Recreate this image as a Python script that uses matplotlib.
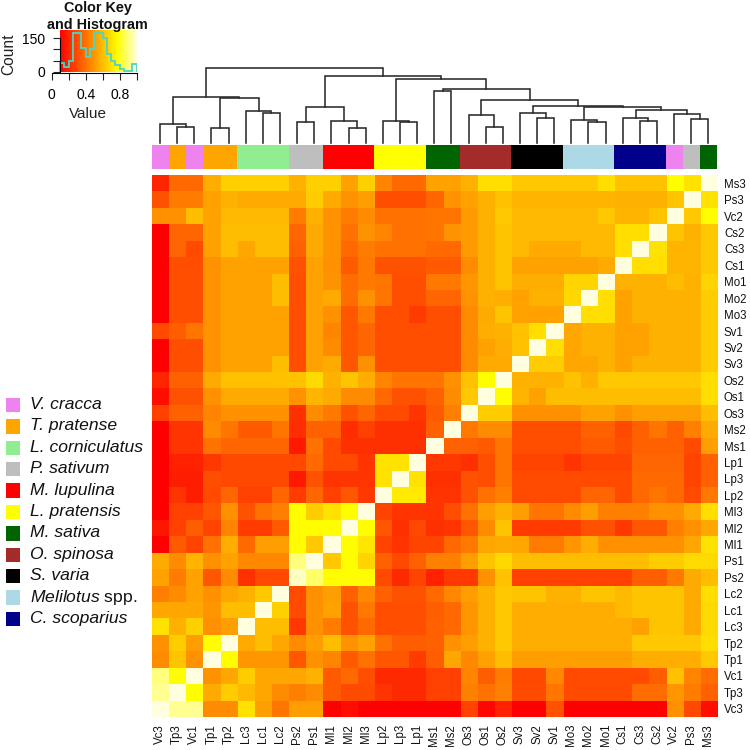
import numpy as np
import matplotlib
matplotlib.use('Agg')
import matplotlib.pyplot as plt
from matplotlib.colors import LinearSegmentedColormap

plt.rcParams['font.family'] = ['Liberation Sans', 'DejaVu Sans']
plt.rcParams['mathtext.fontset'] = 'custom'
plt.rcParams['mathtext.it'] = 'Liberation Sans:italic'
plt.rcParams['mathtext.rm'] = 'Liberation Sans'

col_labels = ['Vc3', 'Tp3', 'Vc1', 'Tp1', 'Tp2', 'Lc3', 'Lc1', 'Lc2', 'Ps2', 'Ps1', 'Ml1',
              'Ml2', 'Ml3', 'Lp2', 'Lp3', 'Lp1', 'Ms1', 'Ms2', 'Os3', 'Os1', 'Os2', 'Sv3',
              'Sv2', 'Sv1', 'Mo3', 'Mo2', 'Mo1', 'Cs1', 'Cs3', 'Cs2', 'Vc2', 'Ps3', 'Ms3']
row_labels = col_labels[::-1]

species_names = ['V. cracca', 'T. pratense', 'L. corniculatus', 'P. sativum', 'M. lupulina',
                 'L. pratensis', 'M. sativa', 'O. spinosa', 'S. varia', 'Melilotus spp.',
                 'C. scoparius']
species_colors = ['#EE82EE', '#FFA500', '#90EE90', '#BEBEBE', '#FF0000', '#FFFF00',
                  '#006400', '#A52A2A', '#000000', '#ADD8E6', '#00008B']
# which species (index) each column belongs to
col_species = [0, 1, 0, 1, 1, 2, 2, 2, 3, 3, 4, 4, 4, 5, 5, 5, 6, 6, 7, 7, 7, 8, 8, 8,
               9, 9, 9, 10, 10, 10, 0, 3, 6]

# similarity in percent, rows top to bottom (Ms3 ... Vc3), columns Vc3 ... Ms3
heat_values = [
    [20,38,38,56,65,65,65,65,57,65,65,53,65,45,38,38,53,53,57,69,69,63,63,63,63,63,69,61,61,61,77,70,100],
    [32,43,43,53,57,55,55,55,55,64,55,49,52,31,31,31,37,49,53,57,61,58,58,58,58,58,58,57,57,57,62,100,70],
    [48,48,60,53,59,59,59,59,43,57,49,43,47,40,40,40,41,41,51,57,63,59,59,59,59,59,63,58,58,62,100,63,77],
    [10,37,37,53,60,60,60,60,37,55,49,40,49,45,40,40,41,49,51,57,62,59,59,59,59,59,59,69,69,100,62,57,63],
    [10,37,30,53,60,54,60,60,36,55,49,38,43,40,40,40,38,38,51,57,62,59,55,55,55,59,59,69,100,70,58,58,63],
    [10,31,31,49,53,53,53,53,32,53,48,34,42,32,32,32,34,34,47,57,62,53,53,53,53,53,55,100,69,69,58,58,63],
    [10,31,31,49,53,53,53,60,31,53,49,39,42,41,31,31,42,42,50,57,62,56,56,56,66,66,100,57,57,57,60,57,66],
    [10,31,31,49,53,53,53,60,31,53,55,39,48,41,31,31,37,37,49,57,56,53,57,57,67,100,69,53,57,57,57,57,64],
    [10,31,31,49,53,53,53,53,31,53,48,33,42,31,31,26,31,31,47,55,62,53,53,53,100,69,69,53,57,57,57,57,64],
    [30,35,41,49,53,53,53,53,31,53,45,33,37,31,31,31,31,31,47,56,57,61,69,100,54,57,57,53,53,57,57,57,64],
    [10,31,31,49,53,53,53,53,31,53,47,33,37,31,31,31,31,31,47,53,56,61,100,69,54,57,57,53,53,57,57,57,64],
    [10,31,31,49,53,53,53,60,31,53,55,33,48,31,31,31,31,31,47,55,55,100,64,64,54,54,57,53,57,57,57,57,64],
    [20,36,36,55,61,61,61,61,61,68,57,62,56,45,41,41,41,48,61,77,100,57,57,57,61,57,63,63,63,63,63,63,69],
    [14,32,32,48,55,55,55,55,49,58,55,47,47,38,32,32,36,47,63,100,77,58,53,60,60,60,60,60,60,60,60,60,69],
    [27,36,36,45,48,48,48,48,23,47,42,32,37,30,30,24,34,44,100,64,64,48,48,48,48,53,53,48,52,52,52,52,60],
    [10,24,24,47,41,34,34,41,22,36,36,22,27,23,23,23,36,100,42,47,47,31,31,31,31,36,36,29,36,41,36,44,55],
    [10,24,24,40,37,37,37,37,17,40,30,23,23,23,23,23,100,36,36,34,41,31,31,31,31,34,34,31,36,36,36,30,52],
    [10,19,19,25,29,29,29,29,29,38,30,30,24,70,70,100,25,25,23,31,41,28,28,28,24,28,28,28,37,37,37,28,36],
    [10,18,18,31,29,29,29,29,17,32,24,24,24,70,100,70,23,23,32,31,41,30,30,30,30,30,30,30,38,38,38,28,36],
    [10,24,18,30,37,27,27,37,26,37,27,33,25,100,72,72,24,24,32,40,44,30,30,30,30,37,37,30,38,41,38,30,42],
    [10,27,27,33,48,32,40,44,77,64,70,77,100,28,24,24,24,31,40,52,57,52,41,41,47,52,44,44,44,48,48,55,69],
    [16,27,35,28,45,26,26,34,77,77,77,100,77,33,23,29,23,24,33,47,62,26,26,26,26,32,32,25,33,33,44,48,54],
    [10,34,28,40,56,38,52,52,77,63,100,77,71,28,24,28,28,38,42,54,55,54,43,43,50,56,48,48,48,48,48,54,70],
    [55,47,58,48,53,46,46,46,90,100,63,77,66,36,29,36,44,44,52,62,67,60,60,60,60,60,60,60,60,64,64,68,68],
    [53,43,53,33,47,23,29,29,97,88,77,77,77,30,21,28,19,25,25,48,61,27,27,27,27,27,27,27,35,35,42,55,60],
    [44,47,53,48,54,57,63,100,30,48,52,36,46,36,32,32,38,46,52,57,63,62,62,57,57,62,62,59,62,62,62,55,69],
    [54,54,54,50,60,60,100,65,30,48,53,32,42,31,31,31,35,38,50,57,63,56,56,56,56,56,56,59,62,62,62,55,68],
    [70,57,65,48,52,100,60,60,25,48,43,32,38,31,31,31,36,38,50,57,63,56,56,56,56,56,56,56,53,62,62,55,68],
    [48,64,52,77,100,55,60,54,47,52,60,49,53,40,35,35,36,48,52,57,63,56,56,56,56,56,56,56,63,63,63,63,69],
    [47,62,48,100,77,50,50,50,33,48,45,34,40,33,33,26,35,54,46,53,60,52,52,52,52,52,52,52,56,56,56,56,63],
    [90,77,100,49,54,64,54,54,54,57,34,38,31,21,21,21,27,27,45,35,43,29,29,46,30,30,30,30,30,35,61,45,39],
    [92,100,77,55,64,59,54,47,44,47,34,30,30,24,21,21,27,27,44,40,44,30,30,41,30,30,30,30,39,39,50,43,36],
    [100,92,92,47,47,70,52,41,52,52,10,14,10,10,10,10,10,10,28,12,19,10,10,32,10,10,10,10,10,10,48,29,14],
]

# histogram over the colour key
hist_counts = [40, 22, 48, 172, 172, 105, 67, 103, 172, 172, 150, 78, 48, 28, 10, 5, 5, 33]
key_xticks = [0, 0.2, 0.4, 0.6, 0.8, 1.0]
key_xlabels = ['0', '', '0.4', '', '0.8', '']
key_yticks = [0, 50, 100, 150]
key_ylabels = ['0', '', '', '150']

# dendrogram merges: node 33 + i joins merge_left[i] and merge_right[i]
merge_left = [1, 0, 3, 6, 5, 35, 34, 8, 11, 10, 40, 14, 13, 16, 19, 18, 22, 21, 25, 24,
              28, 27, 31, 30, 54, 52, 50, 48, 46, 45, 43, 39]
merge_right = [2, 33, 4, 7, 36, 37, 38, 9, 12, 41, 42, 15, 44, 17, 20, 47, 23, 49, 26, 51,
               29, 53, 32, 55, 56, 57, 58, 59, 60, 61, 62, 63]
merge_height = [16, 18.3, 15, 29.7, 31.7, 44.3, 45.3, 20.7, 14.7, 21.7, 35.7, 21, 22, 51.3,
                15.3, 27.3, 24.7, 30, 20.7, 22.7, 22, 24.7, 23.7, 28.3, 32.7, 35.7, 37,
                42.3, 53.3, 63.3, 67, 74.7]

W, H = 750, 750


def px_axes(fig, left, top, right, bottom):
    # axes from pixel box measured from the top left corner
    return fig.add_axes([left / W, 1 - bottom / H, (right - left) / W, (bottom - top) / H])


heat_cmap = LinearSegmentedColormap.from_list(
    'heat', [(0, '#FF0000'), (0.75, '#FFFF00'), (1, '#FFFFE0')], N=256)

fig = plt.figure(figsize=(7.5, 7.5), dpi=100)

# main heatmap
ax = px_axes(fig, 151.5, 175, 717, 717)
ax.imshow(np.array(heat_values) / 100, cmap=heat_cmap, vmin=0.1, vmax=1, aspect='auto',
          interpolation='nearest')
ax.set_xticks(range(33))
ax.set_xticklabels(col_labels, rotation=90, fontsize=8.3, color='#111111')
ax.yaxis.tick_right()
ax.set_yticks(range(33))
ax.set_yticklabels(row_labels, fontsize=8.3, color='#111111')
ax.tick_params(length=0, pad=5)
for s in ax.spines.values():
    s.set_visible(False)

# species colour strip
ax_strip = px_axes(fig, 151.5, 145, 717, 169)
ax_strip.bar(range(33), 1, width=1, color=[species_colors[i] for i in col_species])
ax_strip.set_xlim(-0.5, 32.5)
ax_strip.set_ylim(0, 1)
ax_strip.axis('off')

# dendrogram
ax_den = px_axes(fig, 151.5, 60, 717, 142.7)
node_x = list(range(33))
node_h = [0] * 33
for a, b, h in zip(merge_left, merge_right, merge_height):
    ax_den.plot([node_x[a], node_x[a], node_x[b], node_x[b]],
                [node_h[a], h, h, node_h[b]], color='#2a2a2a', lw=1.15,
                solid_joinstyle='miter', clip_on=False)
    node_x.append((node_x[a] + node_x[b]) / 2)
    node_h.append(h)
ax_den.set_xlim(-0.5, 32.5)
ax_den.set_ylim(0, 82.7)
ax_den.axis('off')

# colour key with histogram
ax_key = px_axes(fig, 51.7, 30, 136.7, 71.7)
ax_key.imshow(np.linspace(0.1, 1, 256).reshape(1, -1), cmap=heat_cmap, vmin=0.1, vmax=1,
              extent=(0.1, 1, 0, 187), aspect='auto')
ax_key.stairs(hist_counts, np.linspace(0.1, 1, len(hist_counts) + 1), color='#45D8C8', lw=1.3)
ax_key.set_xlim(0, 1)
ax_key.set_ylim(0, 187)
ax_key.set_xticks(key_xticks)
ax_key.set_xticklabels(key_xlabels, fontsize=9.2, color='#222222')
ax_key.set_yticks(key_yticks)
ax_key.set_yticklabels(key_ylabels, fontsize=9.2, color='#222222')
ax_key.tick_params(length=5, width=0.8, pad=6, color='#222222')
ax_key.spines['top'].set_visible(False)
ax_key.spines['right'].set_visible(False)
ax_key.spines['left'].set_position(('data', 0.1))
ax_key.spines['left'].set_bounds(0, 150)
ax_key.spines['bottom'].set_position(('outward', 1))

fig.text(97.5 / W, 1 - 8 / H, 'Color Key', fontsize=10.4, fontweight='bold', ha='center',
         va='center', color='#111111')
fig.text(97.5 / W, 1 - 25 / H, 'and Histogram', fontsize=10.4, fontweight='bold', ha='center',
         va='center', color='#111111')
fig.text(9 / W, 1 - 54 / H, 'Count', fontsize=11.2, rotation=90, ha='center', va='center',
         color='#222222')
fig.text(88 / W, 1 - 114 / H, 'Value', fontsize=11, ha='center', va='center', color='#222222')

# species legend
for i, (name, color) in enumerate(zip(species_names, species_colors)):
    yc = 405 + 21.4 * i
    fig.add_artist(plt.Rectangle((6 / W, 1 - (yc + 7.2) / H), 14.3 / W, 14.4 / H,
                                 transform=fig.transFigure, facecolor=color, edgecolor='none'))
    if name.endswith('spp.'):
        label = r'$\mathit{' + name.split()[0] + '}$ spp.'
        style = 'normal'
    else:
        label = name
        style = 'italic'
    fig.text(30.5 / W, 1 - (yc - 0.5) / H, label, fontsize=12.6, fontstyle=style, ha='left',
             va='center', color='#111111')

fig.savefig('out.png', dpi=100)
